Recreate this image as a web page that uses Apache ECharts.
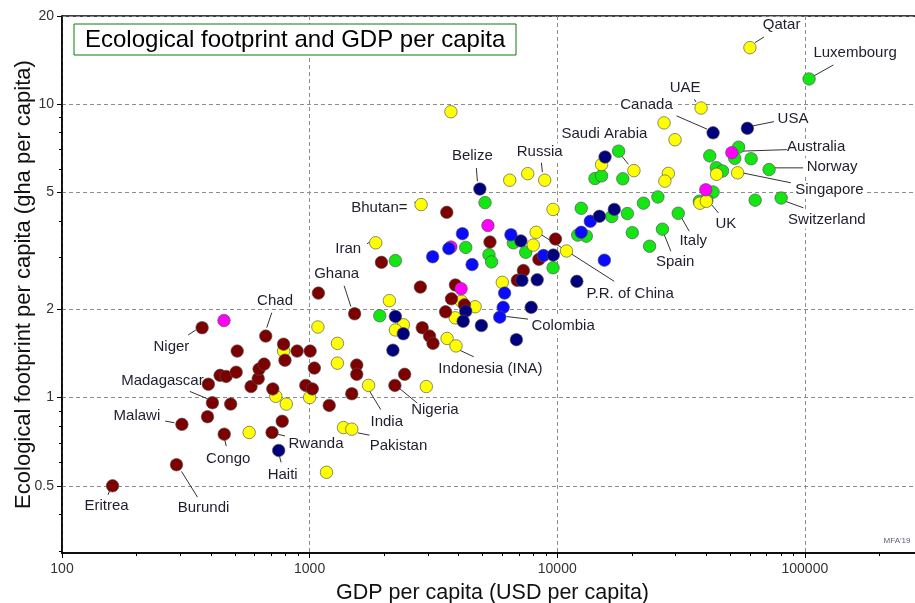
<!DOCTYPE html>
<html><head><meta charset="utf-8">
<script src="https://cdn.jsdelivr.net/npm/echarts@6/dist/echarts.min.js"></script>
<style>html,body{margin:0;padding:0;background:#fff}#c{width:915px;height:603px}</style>
</head><body><div id="c"></div>
<script>
// ---- data: [GDP per capita (USD), footprint (gha per capita), optional label]
const xTickValues = [100, 1000, 10000, 100000];
const yTickValues = [0.5, 1, 2, 5, 10, 20];
const xMinorTicks = [200,300,400,500,600,700,800,900,2000,3000,4000,5000,6000,7000,8000,9000,20000,30000,40000,50000,60000,70000,80000,90000,200000];
const yMinorTicks = [0.3,0.4,0.6,0.7,0.8,0.9,3,4,6,7,8,9];

const europe = [
  [104000,12.2,'Luxembourg'],[54000,7.14],[41300,6.67],[52100,6.54],[60700,6.52],[43900,6.08],[46500,5.92],
  [71700,5.99,'Norway'],[42600,5.02],[37500,4.67],[40200,4.71,'UK'],[63000,4.71],[80200,4.79,'Switzerland'],
  [25500,4.83],[22300,4.60],[30800,4.25,'Italy'],[26600,3.75,'Spain'],[20100,3.65],[23600,3.28],[19200,4.24],
  [16600,4.14],[17700,6.92],[14200,5.58],[15100,5.70],[18400,5.57],[12500,4.42],[13100,3.55],[12100,3.58],
  [9620,2.77],[7460,3.13],[6650,3.37],[5110,4.62],[4270,3.25],[5300,3.07],[5430,2.90],[2220,2.93],[1920,1.90]
];
const asia = [
  [60000,15.6,'Qatar'],[38100,9.71,'UAE'],[27000,8.64],[29900,7.57],[3720,9.43],[15100,6.23],
  [20400,5.94,'Saudi Arabia'],[28100,5.81],[27200,5.47],[44000,5.77],[53500,5.84,'Singapore'],[37700,4.60],
  [40000,4.67],[8900,5.51,'Russia'],[7600,5.80],[6430,5.51],[9620,4.38],[2820,4.55,'Bhutan='],[1850,3.37,'Iran'],
  [8220,3.66,'P.R. of China'],[8000,3.31],[10900,3.16],[6000,2.47],[2100,2.14],[2390,1.77],[2220,1.70],
  [4100,2.13],[4660,2.04],[3870,1.87],[3590,1.59],[3900,1.50,'Indonesia (INA)'],[1080,1.74],[1295,1.53],
  [1295,1.31],[1730,1.10,'India'],[2960,1.09],[785,1.44],[730,1.01],[805,0.95],[1000,1.00],[570,0.76],
  [1370,0.79],[1480,0.78,'Pakistan'],[1170,0.556]
];
const africa = [
  [160,0.50,'Eritrea'],[290,0.59,'Burundi'],[305,0.81,'Malawi'],[387,0.86],[405,0.96,'Madagascar'],[390,1.11],
  [480,0.95],[452,0.75,'Congo'],[435,1.19],[460,1.18],[505,1.22],[510,1.44],[368,1.73,'Niger'],[665,1.62,'Chad'],
  [580,1.09],[620,1.16],[625,1.25],[655,1.30],[710,1.07],[705,0.76,'Rwanda'],[775,0.83],[785,1.52],[795,1.34],
  [890,1.44],[1005,1.44],[1045,1.26],[965,1.10],[1025,1.07],[1085,2.27],[1200,0.94],[1480,1.03],
  [1520,1.93,'Ghana'],[1550,1.29],[1550,1.20],[2210,1.10,'Nigeria'],[2420,1.20],[2850,1.73],[3050,1.62],
  [3150,1.53],[1950,2.89],[2800,2.38],[3580,4.28],[3880,2.42],[3740,2.17],[4220,2.07],[3540,1.96],
  [5350,3.39],[6900,2.51],[7300,2.71],[8430,2.96],[9840,3.47]
];
const oceania = [
  [451,1.83],[5250,3.86],[3720,3.26],[4090,2.35],[50700,6.84,'Australia'],[39800,5.11]
];
const blueGroup = [
  [4140,3.62],[3650,3.22],[3140,3.02],[4530,2.84],[6130,2.27],[6050,2.03],[5860,1.88,'Colombia'],
  [6500,3.59],[8800,3.05],[12500,3.66],[13600,3.99],[15500,2.94]
];
const americas = [
  [58600,8.28,'USA'],[42600,7.99,'Canada'],[15600,6.61],[4870,5.14,'Belize'],[17000,4.38],[14800,4.15],
  [7130,3.42],[9640,3.06],[7200,2.51],[8300,2.52],[12000,2.49],[7850,2.03],[6840,1.575],[4940,1.76],
  [4270,1.97],[4170,1.82],[2220,1.89],[2390,1.65],[2170,1.45],[750,0.66,'Haiti']
];

// ---- styles
const FONT = '"Liberation Sans", Arial, sans-serif';
const groups = [
  {name:'Europe', data:europe, color:'#14e614'},
  {name:'Asia', data:asia, color:'#ffff00'},
  {name:'Africa', data:africa, color:'#7d0000'},
  {name:'Oceania', data:oceania, color:'#ff00ff'},
  {name:'Other', data:blueGroup, color:'#0a0aff'},
  {name:'Americas', data:americas, color:'#00007c'}
];
// label text centre offset (t) and leader line (l: x1,y1,x2,y2), relative to point
const labelStyle = {
  'Eritrea':{t:[-6,20],l:[-3,5,-4.5,9]},
  'Burundi':{t:[27,43],l:[5,6.7,21,32.4]},
  'Malawi':{t:[-45,-8.3],l:[-16.8,-3.3,-7.5,-1.6]},
  'Madagascar':{t:[-50,-22.3],l:[-22.6,-11.3,-5,-4]},
  'Congo':{t:[4,24.5],l:[0.5,5.5,2,12]},
  'Haiti':{t:[4,24.3],l:[0.7,5.3,2.4,12]},
  'Rwanda':{t:[44,11.5],l:[4.6,1.5,13,3.5]},
  'Niger':{t:[-30.7,19],l:[-14,7.3,-6.3,2.3]},
  'Chad':{t:[9.3,-35.7],l:[6,-23.4,1,-8.4]},
  'Ghana':{t:[-18,-40],l:[-10.5,-28,-3.8,-7.3]},
  'Iran':{t:[-27.5,5.7],l:[-8.8,1,-6.5,-0.6]},
  'Bhutan=':{t:[-41.7,3.3],l:[-6.7,-2.3,-4.4,-1.7]},
  'India':{t:[18.2,36.5],l:[0.5,5,12.2,24.2]},
  'Nigeria':{t:[40,24.3],l:[4,2.6,22.3,17.6]},
  'Pakistan':{t:[46.7,17],l:[6,3.7,17.7,6]},
  'Indonesia (INA)':{t:[34.5,23.2],l:[3,4,17.8,10.9]},
  'Colombia':{t:[63.3,8.4],l:[6.7,-0.6,28.3,2]},
  'P.R. of China':{t:[94,61.5],l:[5,2.3,78,49]},
  'Belize':{t:[-7.5,-33.5],l:[-3.5,-21,-2.5,-7.8]},
  'Russia':{t:[-5,-28.4],l:[-3.3,-17.4,-2.3,-8]},
  'Saudi Arabia':{t:[-29.5,-36.3],l:[-19.8,-24,-5.5,-6.3]},
  'UAE':{t:[-16,-20.4],l:[-6.7,-8.7,-5,-6]},
  'Canada':{t:[-66.6,-27.7],l:[-36.6,-17,-6,-3.7]},
  'Qatar':{t:[31.7,-22.3],l:[5,-5,14,-10.6]},
  'Luxembourg':{t:[46,-25.7],l:[4.3,-2.7,24.3,-14]},
  'USA':{t:[45.6,-9.7],l:[5,-2.3,26.6,-6.7]},
  'Australia':{t:[84.3,-5.3],l:[3.3,-1.3,55,-3]},
  'Norway':{t:[63,-2.7],l:[5,-1.7,34,-1.7]},
  'Singapore':{t:[91.8,17.4],l:[4.2,0,53.2,10]},
  'Switzerland':{t:[45.7,22.2],l:[4,3.2,22.3,9.8]},
  'UK':{t:[19,23.5],l:[3.3,2.8,11.6,12.8]},
  'Italy':{t:[15,28],l:[3.4,4.6,11,18]},
  'Spain':{t:[12.7,33],l:[1.7,5.3,8.4,22]}
};

const fmt = v => String(parseFloat((+v).toPrecision(6)));
const XMIN = 100, XMAX = 300000, YMIN = 0.295, YMAX = 20;

const chart = echarts.init(document.getElementById('c'), null, {renderer:'canvas'});
const option = {
  animation: false,
  backgroundColor: '#fff',
  grid: {left:62, right:-8, top:16, bottom:50, outerBoundsMode:'none', containLabel:false,
    show:true, borderColor:'#000', borderWidth:1.5, backgroundColor:'transparent'},
  xAxis: [{
    type:'log', logBase:10, min:XMIN, max:XMAX, position:'bottom',
    name:'GDP per capita (USD per capita)', nameLocation:'middle', nameGap:29, nameMoveOverlap:false,
    nameTextStyle:{fontSize:21.5, fontFamily:FONT, color:'#111'},
    axisLine:{show:true, lineStyle:{color:'#000', width:1.5}},
    axisTick:{show:true, length:5, customValues:xTickValues, lineStyle:{color:'#000'}},
    axisLabel:{customValues:xTickValues, formatter:fmt, margin:9, fontSize:14, fontFamily:FONT, color:'#333'},
    splitLine:{show:true, lineStyle:{type:[4,3], color:'#8c8c8c', width:1}}
  },{
    type:'log', logBase:10, min:XMIN, max:XMAX, position:'bottom',
    axisLine:{show:false}, axisLabel:{show:false}, splitLine:{show:false},
    axisTick:{show:true, length:3, customValues:xMinorTicks, lineStyle:{color:'#000'}}
  }],
  yAxis: [{
    type:'log', logBase:10, min:YMIN, max:YMAX, position:'left',
    name:'Ecological footprint per capita (gha per capita)', nameLocation:'middle', nameGap:27, nameMoveOverlap:false,
    nameTextStyle:{fontSize:22, fontFamily:FONT, color:'#111'},
    axisLine:{show:true, lineStyle:{color:'#000', width:1.5}},
    axisTick:{show:true, length:5, customValues:yTickValues, lineStyle:{color:'#000'}},
    axisLabel:{customValues:yTickValues, formatter:fmt, margin:8, fontSize:14, fontFamily:FONT, color:'#333'},
    splitLine:{show:true, lineStyle:{type:[4,3], color:'#8c8c8c', width:1}}
  },{
    type:'log', logBase:10, min:YMIN, max:YMAX, position:'left',
    axisLine:{show:false}, axisLabel:{show:false}, splitLine:{show:false},
    axisTick:{show:true, length:3, customValues:yMinorTicks, lineStyle:{color:'#000'}}
  }],
  series: groups.map(g => ({
    type:'scatter', name:g.name, xAxisIndex:0, yAxisIndex:0,
    data: g.data.map(d => [d[0], d[1]]),
    symbolSize: 12.5,
    itemStyle:{color:g.color, borderColor:'rgba(80,80,80,0.65)', borderWidth:1, opacity:1},
    emphasis:{disabled:true}, z:3
  }))
};
chart.setOption(option);

// annotations, placed through the chart's own coordinate conversion
const gfx = [];
groups.forEach((g, si) => g.data.forEach(d => {
  const st = d[2] && labelStyle[d[2]];
  if (!st) return;
  const p = chart.convertToPixel({seriesIndex: si}, [d[0], d[1]]);
  gfx.push({type:'line', z:2, silent:true,
    shape:{x1:p[0]+st.l[0], y1:p[1]+st.l[1], x2:p[0]+st.l[2], y2:p[1]+st.l[3]},
    style:{stroke:'#333', lineWidth:1}});
  gfx.push({type:'text', z:1, silent:true, x:p[0]+st.t[0], y:p[1]+st.t[1],
    style:{text:d[2], font:'15px ' + FONT, fill:'#1e1e2e', align:'center', verticalAlign:'middle',
      backgroundColor:'#fff', padding:[1,2]}});
}));
gfx.push({type:'rect', z:10, silent:true, shape:{x:74, y:24, width:442, height:31},
  style:{fill:'#fff', stroke:'#0a7a0a', lineWidth:1}});
gfx.push({type:'text', z:11, silent:true, x:85, y:40,
  style:{text:'Ecological footprint and GDP per capita', font:'24px ' + FONT, fill:'#000', verticalAlign:'middle'}});
gfx.push({type:'text', z:11, silent:true, x:897, y:541,
  style:{text:"MFA'19", font:'8px ' + FONT, fill:'#5a5a7a', align:'center', verticalAlign:'middle'}});
chart.setOption({graphic: gfx});
</script>
</body></html>
